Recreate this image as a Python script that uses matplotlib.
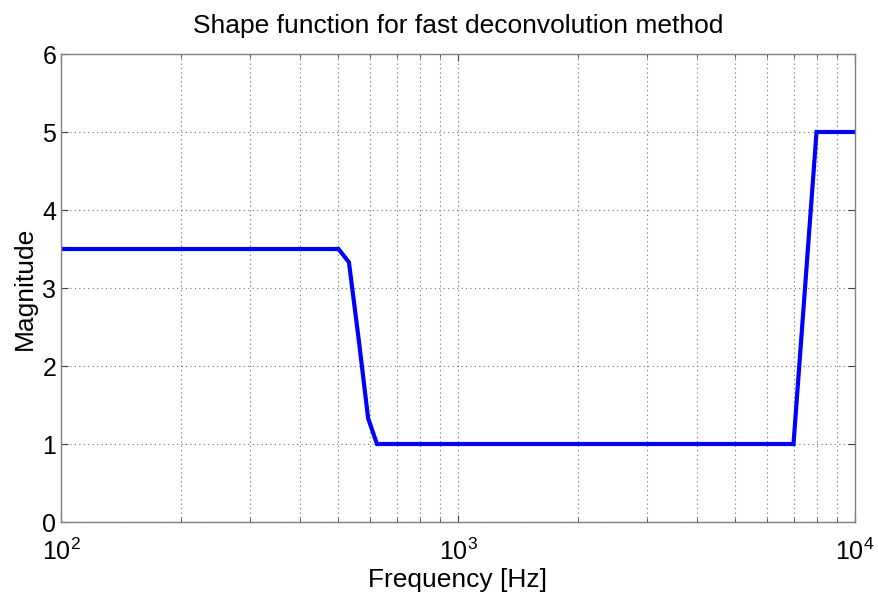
import matplotlib
matplotlib.use("Agg")
import matplotlib.pyplot as plt
import numpy as np

# Data
freq_hz = [100, 500, 531.25, 562.5, 593.75, 625, 7000, 8000, 10000]
magnitude = [3.5, 3.5, 3.33, 2.33, 1.33, 1.0, 1.0, 5.0, 5.0]
yticks = [0, 1, 2, 3, 4, 5, 6]

plt.rcParams['font.family'] = ['Liberation Sans', 'DejaVu Sans']
plt.rcParams['mathtext.fontset'] = 'custom'
plt.rcParams['mathtext.rm'] = 'Liberation Sans'
plt.rcParams['mathtext.it'] = 'Liberation Sans:italic'

fig = plt.figure(figsize=(8.79, 5.94), dpi=100)
ax = fig.add_axes([61/879, 1-522/594, (855-61)/879, (522-54)/594])

ax.plot(freq_hz, magnitude, color='#0000ff', linewidth=3.0, solid_joinstyle='miter')
ax.set_xscale('log')
ax.set_xlim(100, 10000)
ax.set_ylim(0, 6)
ax.set_yticks(yticks)

ax.grid(True, which='both', axis='x', linestyle=(0, (1, 3)), color='#707070', linewidth=0.8)
ax.grid(True, which='major', axis='y', linestyle=(0, (1, 3)), color='#707070', linewidth=0.8)

for s in ax.spines.values():
    s.set_color('#808080')
    s.set_linewidth(1.0)

ax.tick_params(axis='both', which='both', direction='in', top=True, right=True,
               color='#404040', labelsize=18)
ax.tick_params(axis='both', which='major', length=5)
ax.tick_params(axis='x', which='minor', length=3)
ax.tick_params(axis='x', which='major', pad=12)

ax.set_xlabel('Frequency [Hz]', fontsize=19, labelpad=2)
ax.set_ylabel('Magnitude', fontsize=19, labelpad=4)
ax.set_title('Shape function for fast deconvolution method', fontsize=19, pad=15)

fig.savefig('out.png', dpi=100)
